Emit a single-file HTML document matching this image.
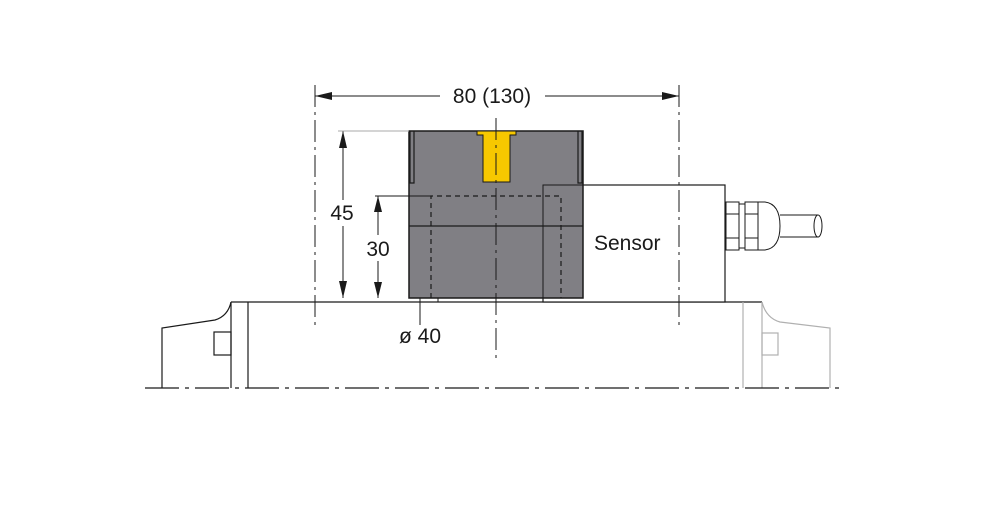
<!DOCTYPE html>
<html><head><style>html,body{margin:0;padding:0;background:#fff}svg{display:block}</style></head><body>
<svg width="996" height="511" viewBox="0 0 996 511" xmlns="http://www.w3.org/2000/svg" font-family="Liberation Sans, sans-serif">
<g fill="none" stroke="#1a1a1a" stroke-width="1.2">
<line x1="231" y1="302" x2="762" y2="302"/>
<line x1="231" y1="302" x2="231" y2="388"/>
<line x1="248" y1="302" x2="248" y2="388"/>
<path d="M231 302 Q228 316 215 320 L162 328 L162 388"/>
<rect x="214" y="332" width="17" height="23"/>
</g>
<g fill="none" stroke="#b0b0b0" stroke-width="1.2">
<line x1="743" y1="302" x2="743" y2="388"/>
<line x1="762" y1="302" x2="762" y2="388"/>
<path d="M762 302 Q766 318 780 322 L830 328 L830 388"/>
<rect x="762" y="333" width="16" height="22"/>
</g>
<line x1="145" y1="388" x2="845" y2="388" stroke="#1a1a1a" stroke-width="1.2" stroke-dasharray="34,6,4,6"/>
<rect x="543" y="185" width="182" height="117" fill="#fff" stroke="#1a1a1a" stroke-width="1.2"/>
<g fill="#fff" stroke="#1a1a1a" stroke-width="1">
<rect x="726" y="202" width="13" height="48"/>
<line x1="726" y1="214" x2="739" y2="214"/><line x1="726" y1="238" x2="739" y2="238"/>
<rect x="739" y="204" width="6" height="44"/>
<path d="M745 202 L765 202 Q780 204 780 226 Q780 248 765 250 L745 250 Z"/>
<line x1="758" y1="202" x2="758" y2="250"/>
<line x1="745" y1="214" x2="758" y2="214"/><line x1="745" y1="238" x2="758" y2="238"/>
<path d="M780 215 L818 215 M780 237 L818 237"/>
<ellipse cx="818" cy="226" rx="4" ry="11"/>
</g>
<rect x="409" y="131" width="174" height="167" fill="#807f84" stroke="#1a1a1a" stroke-width="1.5"/>
<line x1="409" y1="226" x2="583" y2="226" stroke="#1a1a1a" stroke-width="1.3"/>
<path d="M410 131 V183 H414 V131 M582 131 V183 H578 V131" fill="none" stroke="#1a1a1a" stroke-width="1.2"/>
<path d="M543 302 V185 H583" fill="none" stroke="#1a1a1a" stroke-width="1"/>
<path d="M431 298 V196 H561 V298" fill="none" stroke="#1a1a1a" stroke-width="1.2" stroke-dasharray="5,4"/>
<path d="M477 131 H516 V135 H510 V182 H483 V135 H477 Z" fill="#f7c800" stroke="#1a1a1a" stroke-width="1"/>
<line x1="496" y1="118" x2="496" y2="362" stroke="#1a1a1a" stroke-width="1" stroke-dasharray="22,5,3,5"/>
<line x1="420" y1="298" x2="420" y2="325" stroke="#1a1a1a" stroke-width="1"/>
<line x1="438" y1="298" x2="438" y2="302" stroke="#1a1a1a" stroke-width="1"/>
<g stroke="#1a1a1a" stroke-width="1" fill="none">
<line x1="315" y1="85" x2="315" y2="328" stroke-dasharray="22,5,3,5"/>
<line x1="679" y1="85" x2="679" y2="328" stroke-dasharray="22,5,3,5"/>
<line x1="315" y1="96" x2="440" y2="96"/><line x1="545" y1="96" x2="679" y2="96"/>
<line x1="343" y1="131" x2="343" y2="298"/>
<line x1="378" y1="196" x2="378" y2="298"/>
<line x1="375" y1="196" x2="431" y2="196"/>
</g>
<line x1="338" y1="131" x2="409" y2="131" stroke="#aaa" stroke-width="1"/>
<g fill="#1a1a1a">
<path d="M315 96 L332 92 L332 100 Z"/><path d="M679 96 L662 92 L662 100 Z"/>
<path d="M343 131 L339 148 L347 148 Z"/><path d="M343 298 L339 281 L347 281 Z"/>
<path d="M378 196 L374 212 L382 212 Z"/><path d="M378 298 L374 282 L382 282 Z"/>
</g>
<rect x="329" y="200" width="27" height="26" fill="#fff"/>
<rect x="364" y="235" width="28" height="26" fill="#fff"/>
<g fill="#1a1a1a" font-size="21">
<text x="492" y="103" text-anchor="middle">80 (130)</text>
<text x="342" y="220" text-anchor="middle">45</text>
<text x="378" y="256" text-anchor="middle">30</text>
<text x="594" y="250">Sensor</text>
<text x="399" y="343">ø 40</text>
</g>
</svg>
</body></html>
